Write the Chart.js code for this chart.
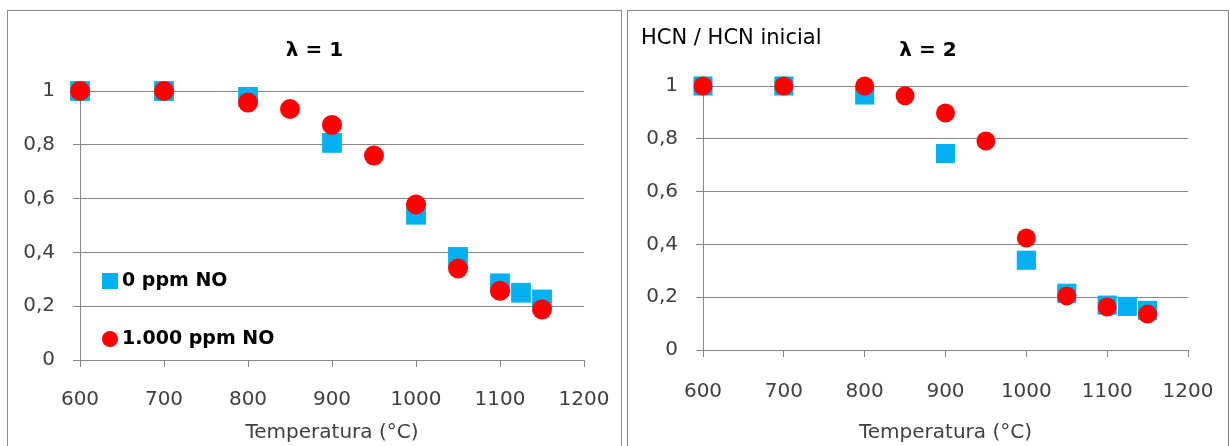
<!DOCTYPE html>
<html>
<head>
<meta charset="utf-8">
<script src="https://cdn.jsdelivr.net/npm/chart.js@4.4.1/dist/chart.umd.min.js"></script>
<style>
  html, body { margin: 0; padding: 0; background: #fff; width: 1230px; height: 446px; overflow: hidden; }
  .panel { position: absolute; top: 10px; height: 440px; border: 1px solid #8a8a8a; box-sizing: border-box; }
  #p1 { left: 7px; width: 615px; }
  #p2 { left: 627px; width: 602px; }
  .panel canvas { position: absolute; left: 0; top: 0; }
</style>
</head>
<body>
<div class="panel" id="p1"><canvas id="c1" width="613" height="435"></canvas></div>
<div class="panel" id="p2"><canvas id="c2" width="600" height="435"></canvas></div>

<script>
// --- datos ---
const tempsSq = [600, 700, 800, 900, 1000, 1050, 1100, 1125, 1150];
const tempsCi = [600, 700, 800, 850, 900, 950, 1000, 1050, 1100, 1150];

// lambda = 1
const lam1_0ppm = [1.0, 1.0, 0.978, 0.807, 0.54, 0.383, 0.285, 0.25, 0.225];
const lam1_1000ppm = [1.0, 1.0, 0.957, 0.933, 0.874, 0.76, 0.578, 0.34, 0.257, 0.188];

// lambda = 2
const lam2_0ppm = [1.0, 1.0, 0.966, 0.744, 0.34, 0.215, 0.17, 0.165, 0.15];
const lam2_1000ppm = [1.0, 1.0, 1.0, 0.963, 0.898, 0.792, 0.424, 0.205, 0.163, 0.136];

const seriesNames = ["0 ppm NO", "1.000 ppm NO"];
const yTickLabels = ["0", "0,2", "0,4", "0,6", "0,8", "1"];
const xTitle = "Temperatura (°C)";
const yNote = "HCN / HCN inicial";

const FONT = "'DejaVu Sans', sans-serif";
const GRID = "#868686";
const TXT = "#404040";

const pts = (xs, ys) => xs.map((x, i) => ({ x: x, y: ys[i] }));

// leyenda dentro del area + texto suelto
const extras = {
  id: "extras",
  afterDraw(chart, args, opts) {
    const { ctx, chartArea } = chart;
    ctx.save();
    ctx.textBaseline = "middle";
    if (opts.legend) {
      ctx.font = "bold 19px " + FONT;
      opts.legend.items.forEach((it) => {
        const ds = chart.data.datasets[it.ds];
        const x = chartArea.left + opts.legend.x;
        const y = chartArea.bottom - it.dy;
        ctx.fillStyle = ds.backgroundColor;
        if (ds.pointStyle === "rect") {
          ctx.fillRect(x - 8, y - 8, 16, 16);
        } else {
          ctx.beginPath();
          ctx.arc(x, y, 8, 0, Math.PI * 2);
          ctx.fill();
        }
        ctx.fillStyle = "#000";
        ctx.fillText(ds.label, x + 12, y);
      });
    }
    if (opts.note) {
      ctx.font = "21px " + FONT;
      ctx.fillStyle = "#000";
      ctx.textAlign = "left";
      ctx.fillText(opts.note.text, opts.note.x, opts.note.y);
    }
    ctx.restore();
  },
};

// tamaños fijos de los ejes, sin margen extra por las etiquetas
const fixSize = (w, h) => (s) => {
  if (w != null) s.width = w;
  if (h != null) s.height = h;
  s.paddingLeft = s.paddingRight = s.paddingTop = s.paddingBottom = 0;
};

function makeChart(id, sq, ci, cfg) {
  const ctx = document.getElementById(id).getContext("2d");
  return new Chart(ctx, {
    type: "scatter",
    data: {
      datasets: [
        {
          label: seriesNames[0],
          data: pts(tempsSq, sq),
          pointStyle: "rect",
          pointRadius: cfg.sqR,
          backgroundColor: "#00B0F0",
          borderWidth: 0,
          order: 2,
          clip: false,
        },
        {
          label: seriesNames[1],
          data: pts(tempsCi, ci),
          pointStyle: "circle",
          pointRadius: cfg.ciR,
          backgroundColor: "#FF0000",
          borderWidth: 0,
          order: 1,
          clip: false,
        },
      ],
    },
    options: {
      responsive: false,
      animation: false,
      layout: { padding: 0 },
      plugins: {
        legend: { display: false },
        tooltip: { enabled: false },
        title: {
          display: true,
          text: cfg.title,
          color: "#000",
          font: { family: FONT, size: 20, weight: "bold" },
          padding: { top: cfg.tTop, bottom: cfg.tBot },
        },
        extras: { legend: cfg.legend, note: cfg.note },
      },
      scales: {
        x: {
          type: "linear",
          min: 600,
          max: 1200,
          ticks: {
            stepSize: 100,
            padding: cfg.xPad,
            color: TXT,
            font: { family: FONT, size: 20 },
            callback: (v) => String(v),
          },
          grid: { drawOnChartArea: false, tickLength: 7, color: GRID },
          border: { color: GRID },
          title: {
            display: true,
            text: xTitle,
            color: TXT,
            font: { family: FONT, size: 20 },
            padding: { top: 0, bottom: 1 },
          },
          afterFit: fixSize(null, cfg.xH),
        },
        y: {
          min: 0,
          max: 1,
          ticks: {
            stepSize: 0.2,
            padding: 18,
            color: TXT,
            font: { family: FONT, size: 20 },
            callback: (v, i) => yTickLabels[i],
          },
          grid: { color: GRID, tickLength: 7 },
          border: { color: GRID },
          afterFit: fixSize(cfg.yW, null),
        },
        pad: {
          position: "right",
          display: true,
          grid: { display: false },
          ticks: { display: false },
          border: { display: false },
          afterFit: fixSize(cfg.rW, null),
        },
      },
    },
    plugins: [extras],
  });
}

makeChart("c1", lam1_0ppm, lam1_1000ppm, {
  title: "λ = 1",
  tTop: 28, tBot: 28,
  xH: 86, xPad: 21, yW: 72, rW: 37,
  sqR: 14, ciR: 10,
  legend: { x: 30, items: [{ ds: 0, dy: 79 }, { ds: 1, dy: 21 }] },
});

makeChart("c2", lam2_0ppm, lam2_1000ppm, {
  title: "λ = 2",
  tTop: 28, tBot: 23,
  xH: 96, xPad: 23, yW: 75, rW: 40,
  sqR: 13.5, ciR: 9.5,
  note: { text: yNote, x: 13, y: 28 },
});
</script>
</body>
</html>
